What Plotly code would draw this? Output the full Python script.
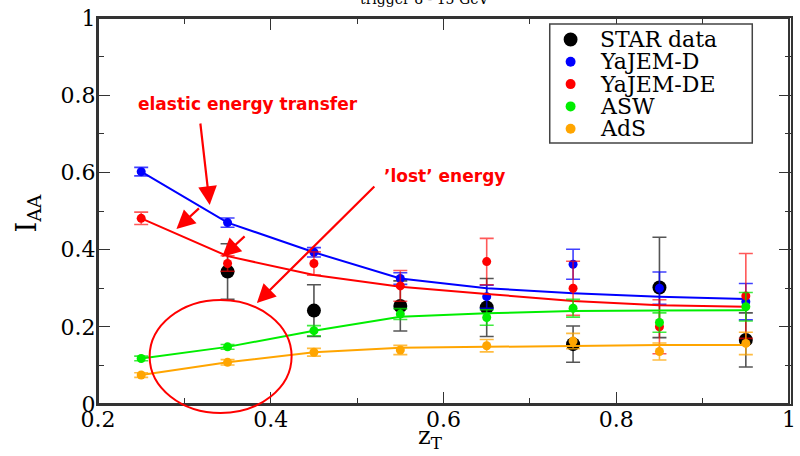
import plotly.graph_objects as go

# ---- data -------------------------------------------------------------
zt = [0.25, 0.35, 0.45, 0.55, 0.65, 0.75, 0.85, 0.95]

star_zt = [0.35, 0.45, 0.55, 0.65, 0.75, 0.85, 0.95]
star_iaa = [0.343, 0.242, 0.254, 0.250, 0.155, 0.302, 0.166]
star_err = [0.072, 0.067, 0.065, 0.075, 0.047, 0.130, 0.070]

yajem_d_curve = [0.602, 0.470, 0.393, 0.325, 0.300, 0.287, 0.278, 0.272]
yajem_d_pts = [0.602, 0.470, 0.393, 0.325, 0.278, 0.362, 0.300, 0.265]
yajem_d_err = [0.011, 0.012, 0.012, 0.015, 0.030, 0.039, 0.042, 0.047]

yajem_de_curve = [0.481, 0.383, 0.334, 0.304, 0.285, 0.267, 0.256, 0.252]
yajem_de_pts = [0.481, 0.364, 0.364, 0.306, 0.369, 0.300, 0.200, 0.280]
yajem_de_err = [0.016, 0.020, 0.030, 0.040, 0.060, 0.070, 0.070, 0.110]

asw_curve = [0.118, 0.148, 0.190, 0.226, 0.235, 0.241, 0.242, 0.243]
asw_pts = [0.118, 0.148, 0.190, 0.233, 0.224, 0.248, 0.211, 0.252]
asw_err = [0.006, 0.006, 0.013, 0.014, 0.020, 0.023, 0.025, 0.037]

ads_curve = [0.075, 0.108, 0.134, 0.146, 0.148, 0.151, 0.153, 0.153]
ads_pts = [0.075, 0.108, 0.134, 0.140, 0.151, 0.163, 0.136, 0.157]
ads_err = [0.006, 0.007, 0.010, 0.012, 0.016, 0.020, 0.022, 0.029]

legend_labels = ["STAR data", "YaJEM-D", "YaJEM-DE", "ASW", "AdS"]
title_text = "trigger 8 - 15 GeV"

# ---- page geometry (pixels) --------------------------------------------
W, H = 800, 456
ML, MR, MT, MB = 98, 4, 18, 52
PW, PH = W - ML - MR, H - MT - MB
XMAX = 1.0 + 0.8 * (MR - 2) / PW  # axis stretched so that z_T = 1 sits at x = 798 px


def paper(px, py):
    return (px - ML) / PW, (H - MB - py) / PH


SERIF = "DejaVu Serif"
SANS = "DejaVu Sans"
FRAME = "#333333"

fig = go.Figure()

# STAR measurement
fig.add_trace(go.Scatter(
    x=star_zt, y=star_iaa, mode="markers", name=legend_labels[0],
    marker=dict(color="black", size=14),
    error_y=dict(type="data", array=star_err, color="#555555", thickness=1.6, width=7),
))

models = [
    (legend_labels[1], "#0000ff", "rgba(0,0,255,0.75)", yajem_d_curve, yajem_d_pts, yajem_d_err),
    (legend_labels[2], "#ff0000", "rgba(255,0,0,0.65)", yajem_de_curve, yajem_de_pts, yajem_de_err),
    (legend_labels[3], "#00ee00", "rgba(0,230,0,0.75)", asw_curve, asw_pts, asw_err),
    (legend_labels[4], "#ffa500", "rgba(255,165,0,0.75)", ads_curve, ads_pts, ads_err),
]

for name, col, ecol, curve, pts, err in models:
    fig.add_trace(go.Scatter(
        x=zt, y=curve, mode="lines", name=name, showlegend=False,
        line=dict(color=col, width=2),
    ))
    fig.add_trace(go.Scatter(
        x=zt, y=pts, mode="markers", name=name, showlegend=False,
        marker=dict(color=col, size=9),
        error_y=dict(type="data", array=err, color=ecol, thickness=1.6, width=7),
    ))

shapes = []
annotations = []

# plot frame, right edge at z_T = 1
shapes.append(dict(type="rect", xref="x", yref="paper", x0=0.2, x1=1.0, y0=0, y1=1,
                   line=dict(color=FRAME, width=2), layer="above"))

# ---- hand-built legend box ---------------------------------------------
bx0, by0 = paper(553, 24)
bx1, by1 = paper(757, 143)
shapes.append(dict(type="rect", xref="paper", yref="paper", x0=bx0, x1=bx1, y0=by1, y1=by0,
                   line=dict(color="#444444", width=1.5), fillcolor="white", layer="above"))

legend_colors = ["black"] + [m[1] for m in models]
legend_sizes = [7, 5, 5, 5, 5]
for i, (lab, col, r) in enumerate(zip(legend_labels, legend_colors, legend_sizes)):
    cy = 39.5 + i * 22.3
    cx = 574
    x0, y0 = paper(cx - r, cy + r)
    x1, y1 = paper(cx + r, cy - r)
    shapes.append(dict(type="circle", xref="paper", yref="paper", x0=x0, x1=x1, y0=y0, y1=y1,
                       fillcolor=col, line=dict(color=col, width=0), layer="above"))
    tx, ty = paper(602, cy)
    annotations.append(dict(text=lab, xref="paper", yref="paper", x=tx, y=ty,
                            xanchor="left", yanchor="middle", showarrow=False,
                            font=dict(family=SERIF, size=22, color="black")))

# ---- circled region ----------------------------------------------------
ex0, ey0 = paper(150, 413)
ex1, ey1 = paper(293, 300)
shapes.append(dict(type="circle", xref="paper", yref="paper", x0=ex0, x1=ex1, y0=ey0, y1=ey1,
                   line=dict(color="#ff0000", width=2), layer="above"))

# ---- red notes and arrows ----------------------------------------------
RED = "#ff0000"
nx, ny = paper(249, 104)
annotations.append(dict(text="<b>elastic energy transfer</b>", xref="paper", yref="paper",
                        x=nx, y=ny, xanchor="center", yanchor="middle", showarrow=False,
                        font=dict(family=SANS, size=17, color=RED)))
nx, ny = paper(447, 176)
annotations.append(dict(text="<b>’lost’ energy</b>", xref="paper", yref="paper",
                        x=nx, y=ny, xanchor="center", yanchor="middle", showarrow=False,
                        font=dict(family=SANS, size=17, color=RED)))

arrows = [  # (tip_px, tip_py, tail_px, tail_py)
    (210.5, 205, 201, 122),
    (177, 229, 201, 207),
    (223, 257, 247, 235),
    (258, 303, 377, 185),
]
for tx, ty, sx, sy in arrows:
    ax_, ay_ = paper(tx, ty)
    annotations.append(dict(text="", xref="paper", yref="paper", x=ax_, y=ay_,
                            ax=sx - tx, ay=sy - ty, showarrow=True, arrowhead=2,
                            arrowsize=1.7, arrowwidth=2.2, arrowcolor=RED))

# ---- titles --------------------------------------------------------------
tx, ty = paper(427, 9)
annotations.append(dict(text=title_text, xref="paper", yref="paper", x=tx, y=ty,
                        xanchor="center", yanchor="bottom", showarrow=False,
                        font=dict(family=SERIF, size=14, color="black")))
tx, ty = paper(433, 437)
annotations.append(dict(text="z<sub>T</sub>", xref="paper", yref="paper", x=tx, y=ty,
                        xanchor="center", yanchor="middle", showarrow=False,
                        font=dict(family=SERIF, size=24, color="black")))
tx, ty = paper(27, 214)
annotations.append(dict(text="I<sub>AA</sub>", xref="paper", yref="paper", x=tx, y=ty,
                        xanchor="center", yanchor="middle", showarrow=False, textangle=-90,
                        font=dict(family=SERIF, size=27, color="black")))

axis_common = dict(
    showgrid=False, zeroline=False, showline=True, linecolor=FRAME, linewidth=2,
    ticks="inside", ticklen=12, tickwidth=1.3, tickcolor=FRAME,
    tickfont=dict(family=SERIF, size=22, color="black"),
    minor=dict(ticks="inside", ticklen=6, tickwidth=1.3, tickcolor=FRAME),
)

fig.update_layout(
    width=W, height=H,
    margin=dict(l=ML, r=MR, t=MT, b=MB, pad=0),
    paper_bgcolor="white", plot_bgcolor="white",
    showlegend=False,
    shapes=shapes, annotations=annotations,
    xaxis=dict(range=[0.2, XMAX], tickvals=[0.2, 0.4, 0.6, 0.8, 1.0],
               ticktext=["0.2", "0.4", "0.6", "0.8", "1"], ticklabelstandoff=-5,
               mirror="allticks", **axis_common),
    yaxis=dict(range=[0, 1], tickvals=[0, 0.2, 0.4, 0.6, 0.8, 1.0],
               ticktext=["0", "0.2", "0.4", "0.6", "0.8", "1"], ticklabelstandoff=-4,
               mirror="ticks", **axis_common),
)
fig.update_xaxes(minor=dict(tickvals=[0.3, 0.5, 0.7, 0.9]))
fig.update_yaxes(minor=dict(tickvals=[0.1, 0.3, 0.5, 0.7, 0.9]))

fig.write_html("out.html")
